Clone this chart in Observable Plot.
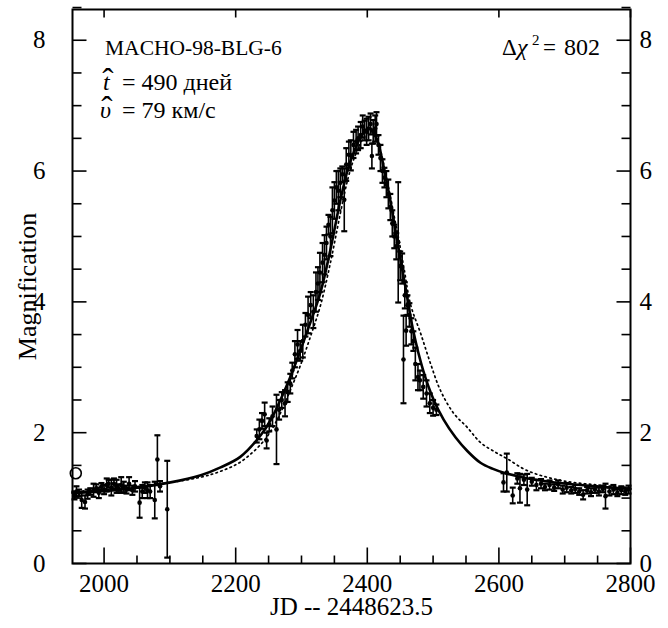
<!DOCTYPE html>
<html><head><meta charset="utf-8">
<script src="https://cdn.jsdelivr.net/npm/d3@7"></script>
<script src="https://cdn.jsdelivr.net/npm/@observablehq/plot@0.6"></script>
<style>
body{margin:0;background:#fff;}
#wrap{width:668px;height:628px;}
#wrap svg text{font-family:"Liberation Serif","Times New Roman",serif !important;}
</style></head><body><div id="wrap"></div>
<script>
// ---- observations: day (JD - 2448623.5), magnification, error ----
const obsDay = [
 1955,1958,1962,1966,1971,1975,1979,1984,1988,1992,1996,2000,2004,2007,2011,2015,2019,2022,2026,2030,2034,2038,2043,2047,2054,2058,2062,2066,2070,2077,2081,2085,2096,
 2232,2236,2240,2244,2247,2251,2256,2262,2266,2270,2275,2279,2283,2286,2290,2294,2298,2302,2306,2310,2314,2318,2322,2325,2328,2332,2335,2338,2341,2344,2347,2350,2353,2356,2359,2362,2365,2368,2372,2375,2379,2383,2386,2390,2393,2396,2399,2402,2405,2407,2409,2412,2414,2417,2420,2423,2426,2429,2432,2435,2438,2441,2444,2447,2450,2453,2455,2457,2459,2461,2464,2467,2470,2473,2477,2480,2485,2490,2495,2500,2505,
 2607,2612,2621,2628,2632,2638,2643,2650,2657,2664,2670,2677,2684,2690,2697,2703,2710,2716,2722,2728,2734,2740,2746,2752,2758,2762,2768,2774,2780,2786,2792,2797
];
const obsMag = [
 1.04,1.10,1.08,0.97,0.94,1.06,1.10,1.12,1.15,1.08,1.18,1.13,1.20,1.22,1.16,1.22,1.18,1.15,1.20,1.17,1.13,1.22,1.12,1.18,0.93,1.10,1.16,1.12,1.10,0.97,1.59,1.18,0.83,
 1.95,2.05,2.18,2.28,1.88,2.12,2.25,2.05,2.35,2.50,2.45,2.62,2.75,2.95,3.20,3.35,3.25,3.40,3.65,3.80,3.95,3.85,4.15,4.28,4.45,4.60,4.72,4.90,5.18,5.00,5.40,5.55,5.75,5.70,5.82,5.95,5.56,6.10,6.25,6.24,6.40,6.45,6.50,6.55,6.68,6.62,6.60,6.65,6.72,6.23,6.60,6.65,6.72,6.40,6.20,6.00,5.90,5.80,5.65,5.45,5.20,5.00,4.85,4.91,4.55,4.51,3.12,4.10,3.56,3.95,3.80,3.55,3.40,3.05,2.85,2.80,2.70,2.60,2.45,2.38,2.35,
 1.24,1.39,1.04,1.30,1.15,1.28,1.13,1.25,1.20,1.22,1.17,1.20,1.16,1.21,1.13,1.16,1.12,1.14,1.10,1.05,1.12,1.09,1.13,1.10,1.14,1.03,1.10,1.13,1.08,1.12,1.10,1.13
];
const obsErr = [
 0.06,0.08,0.05,0.12,0.10,0.07,0.05,0.10,0.06,0.08,0.05,0.07,0.10,0.06,0.12,0.08,0.10,0.06,0.12,0.08,0.06,0.10,0.07,0.08,0.23,0.10,0.08,0.12,0.10,0.28,0.37,0.08,0.74,
 0.10,0.15,0.12,0.18,0.12,0.10,0.15,0.53,0.15,0.12,0.20,0.15,0.15,0.12,0.20,0.22,0.15,0.25,0.18,0.28,0.20,0.25,0.30,0.25,0.30,0.30,0.30,0.25,0.15,0.30,0.35,0.28,0.25,0.30,0.22,0.12,0.48,0.25,0.20,0.23,0.20,0.18,0.18,0.20,0.17,0.15,0.20,0.18,0.16,0.19,0.18,0.20,0.18,0.15,0.20,0.18,0.15,0.20,0.22,0.20,0.20,0.18,0.20,0.92,0.22,0.23,0.67,0.20,0.23,0.15,0.18,0.20,0.15,0.25,0.20,0.15,0.18,0.20,0.15,0.12,0.08,
 0.14,0.29,0.12,0.08,0.22,0.08,0.24,0.06,0.08,0.07,0.05,0.07,0.05,0.06,0.06,0.07,0.05,0.06,0.05,0.07,0.05,0.06,0.05,0.06,0.05,0.19,0.06,0.07,0.05,0.06,0.05,0.06
];
// open-circle point
const openDay = [1957];
const openMag = [1.38];

// ---- model curves ----
const fitADay = [1952,2025,2101,2147,2177,2207,2238,2253,2268,2283,2298,2314,2329,2344,2359,2371,2382,2394,2405,2414,2421,2428,2435,2441,2447,2454,2461,2470,2485,2501,2516,2534,2552,2572,2590,2610,2635,2663,2694,2724,2760,2800];
const fitAMag = [1.08,1.13,1.24,1.35,1.47,1.63,1.96,2.19,2.50,2.85,3.25,3.70,4.15,4.80,5.55,6.05,6.35,6.58,6.65,6.50,6.25,5.90,5.55,5.20,4.85,4.45,4.05,3.55,2.95,2.50,2.20,1.93,1.72,1.54,1.45,1.38,1.32,1.27,1.23,1.20,1.17,1.14];
const fitBDay = [1952,2025,2100,2147,2177,2207,2238,2253,2268,2283,2298,2314,2329,2344,2359,2371,2382,2394,2405,2414,2421,2428,2435,2441,2447,2456,2466,2481,2496,2511,2531,2552,2572,2595,2613,2643,2694,2750,2800];
const fitBMag = [1.10,1.15,1.24,1.32,1.41,1.55,1.82,2.02,2.30,2.65,3.02,3.48,3.95,4.60,5.35,5.90,6.25,6.50,6.62,6.50,6.28,5.95,5.62,5.30,5.00,4.50,3.95,3.52,3.06,2.65,2.30,2.08,1.85,1.70,1.60,1.42,1.27,1.20,1.16];

// ---- axes ----
const xDomain = [1952, 2800];
const yDomain = [0, 8.47];
const xTickLabels = [2000, 2200, 2400, 2600, 2800];
const xMinorTicks = [2050,2100,2150,2250,2300,2350,2450,2500,2550,2650,2700,2750];
const yTickLabels = [0, 2, 4, 6, 8];
const yMinorTicks = [0.5,1,1.5,2.5,3,3.5,4.5,5,5.5,6.5,7,7.5,8.5];

const obs = obsDay.map((t,i)=>({t, m: obsMag[i], e: obsErr[i]}));
const openPts = openDay.map((t,i)=>({t, m: openMag[i]}));
const fitA = fitADay.map((t,i)=>({t, m: fitAMag[i]}));
const fitB = fitBDay.map((t,i)=>({t, m: fitBMag[i]}));

const L = s => Math.sqrt(s/Math.PI);
const tickSym = (dx,dy) => ({draw(ctx,size){const l=L(size); ctx.moveTo(0,0); ctx.lineTo(dx*l, dy*l);}});
const capSym = {draw(ctx,size){const l=L(size); ctx.moveTo(-l,0); ctx.lineTo(l,0);}};

const font = "Liberation Serif, Times New Roman, serif";
const tk = {stroke:"black", fill:"none", strokeWidth:1.6};

const plot = Plot.plot({
  width: 668, height: 628,
  marginLeft: 72, marginRight: 38, marginTop: 9, marginBottom: 65,
  x: {domain: xDomain},
  y: {domain: yDomain},
  style: {fontFamily: font, fontSize: "25px", background: "white", color: "black", overflow: "visible"},
  marks: [
    Plot.line(fitB, {x:"t", y:"m", stroke:"black", strokeWidth:1.7, strokeDasharray:"1.5,3.5", curve:"catmull-rom"}),
    Plot.line(fitA, {x:"t", y:"m", stroke:"black", strokeWidth:2.6, curve:"catmull-rom"}),
    Plot.ruleX(obs, {x:"t", y1: d=>d.m-d.e, y2: d=>d.m+d.e, stroke:"black", strokeWidth:1.6, clip:true}),
    Plot.dot(obs, {x:"t", y: d=>d.m+d.e, symbol: capSym, r:3, ...tk, strokeWidth:2.2}),
    Plot.dot(obs, {x:"t", y: d=>Math.max(0.02,d.m-d.e), symbol: capSym, r:3, ...tk, strokeWidth:2.2}),
    Plot.dot(obs, {x:"t", y:"m", r:2.3, fill:"black", stroke:"none"}),
    Plot.dot(openPts, {x:"t", y:"m", r:5.5, fill:"white", stroke:"black", strokeWidth:1.6}),
    Plot.frame({stroke:"black", strokeWidth:2}),
    // bottom ticks
    Plot.dot(xTickLabels, {x: d=>d, y: () => yDomain[0], symbol: tickSym(0,-1), r:16, ...tk}),
    Plot.dot(xMinorTicks, {x: d=>d, y: () => yDomain[0], symbol: tickSym(0,-1), r:8, ...tk}),
    // top ticks
    Plot.dot(xTickLabels, {x: d=>d, y: () => yDomain[1], symbol: tickSym(0,1), r:8, ...tk}),
    // left ticks
    Plot.dot(yTickLabels, {x: () => xDomain[0], y: d=>d, symbol: tickSym(1,0), r:14, ...tk}),
    Plot.dot(yMinorTicks, {x: () => xDomain[0], y: d=>d, symbol: tickSym(1,0), r:9, ...tk}),
    // right ticks
    Plot.dot(yTickLabels, {x: () => xDomain[1], y: d=>d, symbol: tickSym(-1,0), r:14, ...tk}),
    Plot.dot(yMinorTicks, {x: () => xDomain[1], y: d=>d, symbol: tickSym(-1,0), r:9, ...tk}),
    Plot.axisX({ticks: xTickLabels, tickSize: 0, tickPadding: 11, label: null, tickFormat: d=>String(d), fontSize: 25}),
    Plot.axisY({ticks: yTickLabels, anchor:"left", tickSize: 0, tickPadding: 27, label: null, fontSize: 25}),
    Plot.axisY({ticks: yTickLabels, anchor:"right", tickSize: 0, tickPadding: 9, label: null, fontSize: 25}),
    Plot.text(["Magnification"], {text: d=>d, frameAnchor:"left", dx:-45, rotate:-90, fontSize:26, lineAnchor:"middle", textAnchor:"middle"}),
    Plot.text(["JD -- 2448623.5"], {text: d=>d, frameAnchor:"bottom", dy:43, fontSize:25, lineAnchor:"middle", textAnchor:"middle"})
  ]
});
document.getElementById("wrap").appendChild(plot);

// annotations as real SVG text
const svg = d3.select(plot);
const g = svg.append("g").attr("fill","black").attr("text-anchor","start");
const txt = (x, y, size, s, extra={}) => {
  const t = g.append("text").attr("x",x).attr("y",y).attr("font-size",size).text(s);
  for (const k in extra) t.attr(k, extra[k]);
  return t;
};
txt(105, 55, 21.5, "MACHO-98-BLG-6");
// line 2: t-hat = 490 days
txt(108, 92, 34, "\u02C6", {"text-anchor":"middle"});
txt(103, 90, 24, "t", {"font-style":"italic"});
txt(122, 90, 24, "= 490 дней");
// line 3: v-hat = 79 km/s
txt(107, 120, 34, "\u02C6", {"text-anchor":"middle"});
txt(100, 118, 24, "\u03C5", {"font-style":"italic"});
txt(122, 118, 24, "= 79 км/с");
// delta chi^2
txt(502, 55, 23, "\u0394");
txt(517, 55, 24, "\u03C7", {"font-style":"italic"});
txt(532, 45, 15, "2");
txt(543, 55, 23, "=");
txt(564, 55, 24, "802");
</script></body></html>
